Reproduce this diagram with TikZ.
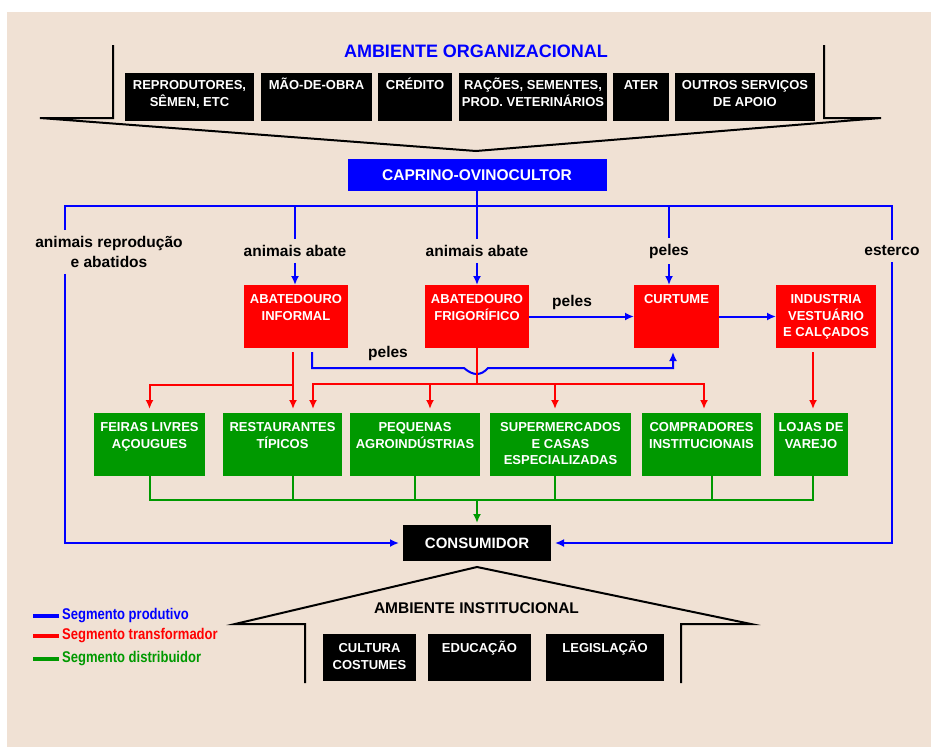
\documentclass[tikz,border=0pt]{standalone}
\usepackage{fontspec}
\setmainfont{Liberation Sans}
\newfontfamily\narrowfont[FakeStretch=0.84]{Liberation Sans}
\usetikzlibrary{positioning,arrows.meta}
\definecolor{fundo}{RGB}{240,225,212}
\definecolor{verde}{RGB}{0,153,0}
\newcommand{\tst}{\rule{0pt}{13pt}}

\begin{document}
\begin{tikzpicture}[x=1pt, y=-1pt, >={Latex[length=9pt,width=8pt]},
  box/.style={inner sep=0pt, outer sep=0pt},
  bk/.style={box, fill=black}, rb/.style={box, fill=red}, gb/.style={box, fill=verde}, ub/.style={box, fill=blue},
  tx/.style={align=center, inner sep=0pt, outer sep=0pt, text=white, font=\bfseries\fontsize{13}{16.5}\selectfont},
  tk/.style={tx, font=\bfseries\fontsize{13}{17}\selectfont},
  lb/.style={text=black, font=\bfseries\fontsize{15.5}{20}\selectfont, inner xsep=2pt, inner ysep=6pt},
  pr/.style={blue, line width=2pt}, tr/.style={red, line width=2pt}, di/.style={verde, line width=2pt},
  kl/.style={black, line width=2pt},
  leg/.style={anchor=west, inner xsep=3pt, font=\narrowfont\bfseries\fontsize{15.5}{18}\selectfont}]
	\useasboundingbox (0,0) rectangle (931,747);
	\fill[white] (0,0) rectangle (931,747);
	\fill[fundo] (7,12) rectangle (931,747);

	% ambiente organizacional
	\draw[kl] (113,45) -- (113,118) -- (40,118) -- (476,151) -- (881,118) -- (824,118) -- (824,45);
	\node[text=blue, font=\bfseries\fontsize{18}{20}\selectfont] (org) at (476,51) {AMBIENTE ORGANIZACIONAL};
	\node[bk, minimum width=129, minimum height=48] (rep) at (189.5,97) {};
	\node[tk, below=3pt of rep.north] (rep_t) {\tst REPRODUTORES,\\SÊMEN, ETC};
	\node[bk, minimum width=111, minimum height=48] (mao) at (316.5,97) {};
	\node[tk, below=3pt of mao.north] (mao_t) {\tst MÃO-DE-OBRA};
	\node[bk, minimum width=74, minimum height=48] (cre) at (415,97) {};
	\node[tk, below=3pt of cre.north] (cre_t) {\tst CRÉDITO};
	\node[bk, minimum width=148, minimum height=48] (rac) at (533,97) {};
	\node[tk, below=3pt of rac.north] (rac_t) {\tst RAÇÕES, SEMENTES,\\PROD. VETERINÁRIOS};
	\node[bk, minimum width=56, minimum height=48] (ate) at (641,97) {};
	\node[tk, below=3pt of ate.north] (ate_t) {\tst ATER};
	\node[bk, minimum width=140, minimum height=48] (out) at (745,97) {};
	\node[tk, below=3pt of out.north] (out_t) {\tst OUTROS SERVIÇOS\\DE APOIO};

	\node[ub, minimum width=259, minimum height=32, text=white, font=\bfseries\fontsize{15.5}{18}\selectfont] (cap) at (477,175) {CAPRINO-OVINOCULTOR};

	% labels
	\node[lb, align=center] (la) at (109,252) {animais reprodução\\e abatidos};
	\node[lb] (ab1) at (295,251) {animais abate};
	\node[lb] (ab2) at (477,251) {animais abate};
	\node[lb] (pe1) at (669,251) {peles};
	\node[lb] (es) at (892,251) {esterco};

	% segmento transformador
	\node[rb, minimum width=104, minimum height=63] (inf) at (296,316.5) {};
	\node[tx, below=5.5pt of inf.north] (inf_t) {\tst ABATEDOURO\\INFORMAL};
	\node[rb, minimum width=104, minimum height=63] (frig) at (477,316.5) {};
	\node[tx, below=5.5pt of frig.north] (frig_t) {\tst ABATEDOURO\\FRIGORÍFICO};
	\node[rb, minimum width=85, minimum height=63] (cur) at (676.5,316.5) {};
	\node[tx, below=5.5pt of cur.north] (cur_t) {\tst CURTUME};
	\node[rb, minimum width=100, minimum height=63] (ind) at (826,316.5) {};
	\node[tx, below=5.5pt of ind.north] (ind_t) {\tst INDUSTRIA\\VESTUÁRIO\\E CALÇADOS};

	% segmento distribuidor
	\node[gb, minimum width=111, minimum height=63] (fei) at (149.5,444.5) {};
	\node[tx, below=5.5pt of fei.north] (fei_t) {\tst FEIRAS LIVRES\\AÇOUGUES};
	\node[gb, minimum width=119, minimum height=63] (rest) at (282.5,444.5) {};
	\node[tx, below=5.5pt of rest.north] (rest_t) {\tst RESTAURANTES\\TÍPICOS};
	\node[gb, minimum width=130, minimum height=63] (peq) at (415,444.5) {};
	\node[tx, below=5.5pt of peq.north] (peq_t) {\tst PEQUENAS\\AGROINDÚSTRIAS};
	\node[gb, minimum width=141, minimum height=63] (sup) at (560.5,444.5) {};
	\node[tx, below=5.5pt of sup.north] (sup_t) {\tst SUPERMERCADOS\\E CASAS\\ESPECIALIZADAS};
	\node[gb, minimum width=119, minimum height=63] (com) at (701.5,444.5) {};
	\node[tx, below=5.5pt of com.north] (com_t) {\tst COMPRADORES\\INSTITUCIONAIS};
	\node[gb, minimum width=74, minimum height=63] (loj) at (811,444.5) {};
	\node[tx, below=5.5pt of loj.north] (loj_t) {\tst LOJAS DE\\VAREJO};

	\node[bk, minimum width=148, minimum height=36, text=white, font=\bfseries\fontsize{15}{18}\selectfont] (con) at (477,543) {CONSUMIDOR};

	% segmento produtivo
	\coordinate (bw) at (65,206);
	\coordinate (bus) at (477,206);
	\coordinate (be) at (892,206);
	\draw[pr] (la.north -| bw) -- (bw) -- (be) -- (es);
	\draw[pr] (cap) -- (ab2);
	\draw[pr] (ab1 |- bus) -- (ab1);
	\draw[pr] (pe1 |- bus) -- (pe1);
	\draw[pr, ->] (ab1) -- (ab1 |- inf.north);
	\draw[pr, ->] (ab2) -- (frig);
	\draw[pr, ->] (pe1) -- (pe1 |- cur.north);
	\draw[pr, ->, shorten >=4pt] (la.south -| bw) |- (con);
	\draw[pr, ->, shorten >=4pt] (es) |- (con);
	\path[pr, ->] (frig) edge node[lb, above, pos=0.41] {peles} (cur);
	\path[pr, ->] (cur) edge (ind);
	\draw[pr, ->] ([shift={(16pt,-4pt)}]inf.south) -- ++(0,16) -- node[lb, above] {peles} (464,368)
		.. controls (473,376) and (481,376) .. (488,368) -- (673,368) -- ([shift={(-3.5pt,-4pt)}]cur.south);

	% segmento transformador
	\coordinate (rh) at (293,385);
	\coordinate (fh) at (477,384);
	\draw[tr, ->, shorten >=4pt] ([shift={(-3pt,-4pt)}]inf.south) coordinate (ri) -- (ri |- rest.north);
	\draw[tr, ->, shorten >=4pt] (rh) -| (fei);
	\draw[tr] (frig) -- (fh);
	\draw[tr, ->, shorten >=4pt] (fh) -| ([xshift=30.5pt]rest.north);
	\draw[tr, ->, shorten >=4pt] (fh) -| ([xshift=15pt]peq.north);
	\draw[tr, ->, shorten >=4pt] (fh) -| ([xshift=-5.5pt]sup.north);
	\draw[tr, ->, shorten >=4pt] (fh) -| ([xshift=2.5pt]com.north);
	\draw[tr, ->, shorten >=4pt] ([shift={(-13pt,-4pt)}]ind.south) coordinate (rj) -- (rj |- loj.north);

	% segmento distribuidor
	\coordinate (gh) at (477,500);
	\draw[di] (fei) |- (gh);
	\draw[di] ([xshift=10.5pt]rest.south) |- (gh);
	\draw[di] (peq) |- (gh);
	\draw[di] ([xshift=-5.5pt]sup.south) |- (gh);
	\draw[di] ([xshift=10.5pt]com.south) |- (gh);
	\draw[di] ([xshift=2pt]loj.south) |- (gh);
	\draw[di, ->, shorten >=2pt] (gh) -- (con);

	% ambiente institucional
	\draw[kl] (305,683) -- (305,624) -- (235,624) -- (477,567) -- (751,624) -- (681,624) -- (681,683);
	\node[font=\bfseries\fontsize{15.5}{18}\selectfont] (inst) at (476.5,608) {AMBIENTE INSTITUCIONAL};
	\node[bk, minimum width=93, minimum height=47] (cul) at (369.5,657.5) {};
	\node[tk, below=5.5pt of cul.north] (cul_t) {\tst CULTURA\\COSTUMES};
	\node[bk, minimum width=103, minimum height=47] (edu) at (479.5,657.5) {};
	\node[tk, below=5.5pt of edu.north] (edu_t) {\tst EDUCAÇÃO};
	\node[bk, minimum width=118, minimum height=47] (leg) at (605,657.5) {};
	\node[tk, below=5.5pt of leg.north] (leg_t) {\tst LEGISLAÇÃO};

	% legenda
	\node[leg, text=blue] (lg1) at (59,616) {Segmento produtivo};
	\node[leg, text=red] (lg2) at (59,636) {Segmento transformador};
	\node[leg, text=verde] (lg3) at (59,659) {Segmento distribuidor};
	\draw[pr, line width=3.5pt] (lg1.west) -- ++(-26,0);
	\draw[tr, line width=3.5pt] (lg2.west) -- ++(-26,0);
	\draw[di, line width=3.5pt] (lg3.west) -- ++(-26,0);
\end{tikzpicture}
\end{document}
